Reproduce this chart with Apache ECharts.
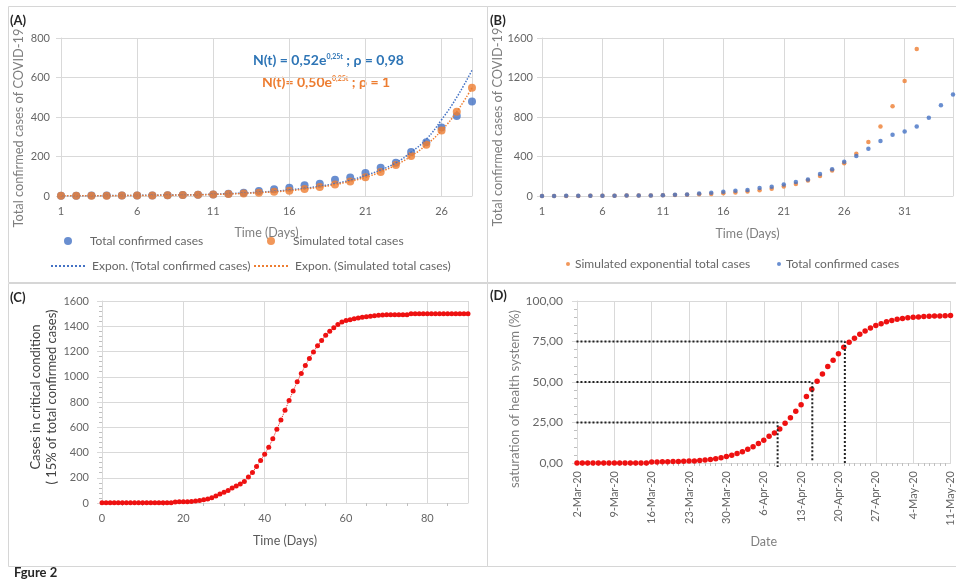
<!DOCTYPE html>
<html>
<head>
<meta charset="utf-8">
<title>Figure 2</title>
<script src="https://cdn.jsdelivr.net/npm/echarts@6/dist/echarts.min.js"></script>
<style>
  html, body { margin: 0; padding: 0; background: #fff; }
  #chart { width: 956px; height: 581px; }
</style>
</head>
<body>
<div id="chart"></div>
<script>
// (A)/(B) total confirmed cases, day 1..35
const confirmedCases = [1, 1, 2, 2, 2, 2, 3, 4, 5, 6, 8, 12, 16, 25, 34, 42, 54, 62, 82, 94, 117, 143, 168, 223, 272, 347, 405, 478, 557, 621, 654, 705, 792, 919, 1027]
// simulated exponential cases, day 1..32
const simulatedCases = [1, 1, 1, 1, 2, 2, 3, 4, 5, 6, 8, 10, 13, 17, 21, 27, 35, 45, 58, 74, 95, 122, 157, 202, 259, 332, 427, 548, 705, 909, 1165, 1488]
// exponential trend lines drawn in (A), day 1..28
const trendConfirmed = [1, 1, 1, 2, 2, 3, 4, 5, 6, 7, 9, 12, 15, 19, 24, 31, 39, 50, 63, 80, 104, 132, 168, 222, 288, 386, 500, 637]
const trendSimulated = [1, 1, 1, 1, 2, 2, 3, 4, 5, 6, 8, 10, 13, 17, 21, 27, 35, 45, 58, 74, 95, 122, 157, 202, 259, 332, 427, 548]
const daysA = 28

// (C) cases in critical condition, day 0..90
const criticalCases = [
  1, 1, 1, 1, 1, 1, 1, 1, 1, 1,
  1, 1, 1, 1, 1, 1, 1, 1, 8, 9,
  10, 10, 12, 15, 20, 25, 32, 42, 55, 72,
  85, 100, 118, 135, 150, 170, 205, 242, 289, 337,
  387, 442, 508, 584, 658, 734, 811, 887, 960, 1026,
  1089, 1145, 1197, 1245, 1287, 1329, 1361, 1389, 1413, 1434,
  1445, 1452, 1460, 1466, 1471, 1476, 1480, 1484, 1487, 1490,
  1491, 1491, 1491, 1491, 1491, 1491, 1500, 1500, 1500, 1500,
  1500, 1500, 1500, 1500, 1500, 1500, 1500, 1500, 1500, 1500,
  1500
]

// (D) saturation of health system (%), daily from 2-Mar-20 to 11-May-20
const saturation = [
  0, 0, 0, 0, 0, 0, 0, 0, 0, 0,
  0, 0, 0, 0, 0.6, 0.6, 0.7, 0.8, 0.9, 1.0,
  1.1, 1.2, 1.3, 1.5, 1.8, 2.2, 2.7, 3.3, 4.0, 4.8,
  5.8, 7.0, 8.5, 10.0, 12.0, 14.0, 16.5, 18.5, 21.0, 24.5,
  28.0, 32.0, 36.0, 41.0, 45.5, 50.5, 55.0, 59.5, 63.5, 67.5,
  71.5, 74.5, 77.0, 79.5, 81.5, 83.3, 84.8, 86.0, 87.2, 88.0,
  88.7, 89.2, 89.6, 89.9, 90.2, 90.4, 90.6, 90.7, 90.8, 90.9,
  91.0
]
const dateLabels = ['2-Mar-20', '9-Mar-20', '16-Mar-20', '23-Mar-20', '30-Mar-20', '6-Apr-20', '13-Apr-20', '20-Apr-20', '27-Apr-20', '4-May-20', '11-May-20']
// dotted guide lines in (D): level (%), day index where it drops, where the drop ends
const refLevel = [25, 50, 75]
const refDay = [37.6, 44.1, 50.2]
const refFoot = [-2.5, 1, 0]
const refStart = -3.1

const FONT = 'Lato'
const GRID = '#d9d9d9'
const LABEL = '#666'
const BLUE = '#4472c4'
const ORANGE = '#ed7d31'
const RED = '#ee1111'

const byDay = (arr, first) => arr.map((v, i) => [i + first, v])

function refLine(k) {
  return [[refStart, refLevel[k]], [refDay[k], refLevel[k]], [refDay[k], refFoot[k]]]
}

function labelStyle(extra) {
  return Object.assign({ color: LABEL, fontFamily: FONT, fontSize: 11 }, extra)
}

// rotated y-axis titles, placed by hand like the original figure
function yTitle(text, x, y, size, color) {
  return {
    type: 'text', x: x, y: y, rotation: Math.PI / 2, silent: true,
    style: { text: text, fontFamily: FONT, fontSize: size, fill: color, align: 'center', verticalAlign: 'middle', lineHeight: 16 }
  }
}

const nameStyle = { color: '#7f7f7f', fontFamily: FONT, fontSize: 12.5 }

const chart = echarts.init(document.getElementById('chart'))

const option = {
  backgroundColor: '#fff',
  animation: false,
  textStyle: { fontFamily: FONT },
  grid: [
    { left: 61, right: 484, top: 38, bottom: 385 }, // A
    { left: 542, right: 2, top: 38, bottom: 385 }, // B
    { left: 102, right: 488, top: 301, bottom: 78 }, // C
    { left: 577, right: 4, top: 301, bottom: 118 } // D
  ],
  xAxis: [
    {
      gridIndex: 0, type: 'value', min: 1, max: daysA, interval: 5,
      axisLine: { lineStyle: { color: GRID } },
      axisTick: { show: false },
      splitLine: { lineStyle: { color: GRID } },
      axisLabel: labelStyle({ margin: 10, formatter: v => ((v - 1) % 5 === 0 ? v : '') }),
      name: 'Time (Days)', nameLocation: 'middle', nameGap: 30, nameTextStyle: nameStyle
    },
    {
      gridIndex: 1, type: 'value', min: 1, max: 35, interval: 5,
      axisLine: { lineStyle: { color: GRID } },
      axisTick: { show: false },
      splitLine: { lineStyle: { color: GRID } },
      axisLabel: labelStyle({ margin: 10, formatter: v => ((v - 1) % 5 === 0 ? v : '') }),
      name: 'Time (Days)', nameLocation: 'middle', nameGap: 31, nameTextStyle: nameStyle
    },
    {
      gridIndex: 2, type: 'value', min: 0, max: 90, interval: 20,
      axisLine: { lineStyle: { color: GRID } },
      axisTick: { show: false },
      minorTick: { show: true, splitNumber: 4, length: 3, lineStyle: { color: '#bfbfbf' } },
      splitLine: { lineStyle: { color: GRID } },
      axisLabel: labelStyle({ margin: 10, formatter: v => (v % 20 === 0 ? v : '') }),
      name: 'Time (Days)', nameLocation: 'middle', nameGap: 31,
      nameTextStyle: Object.assign({}, nameStyle, { color: '#595959' })
    },
    {
      gridIndex: 3, type: 'value', min: 0, max: 70, interval: 7,
      axisLine: { lineStyle: { color: GRID } },
      axisTick: { show: false },
      minorTick: { show: true, splitNumber: 7, length: 3, lineStyle: { color: '#bfbfbf' } },
      splitLine: { lineStyle: { color: GRID } },
      axisLabel: labelStyle({ margin: 8, rotate: 90, formatter: v => dateLabels[v / 7] || '' }),
      name: 'Date', nameLocation: 'middle', nameGap: 72, nameTextStyle: nameStyle
    }
  ],
  yAxis: [
    {
      gridIndex: 0, type: 'value', min: 0, max: 800, interval: 200,
      axisLine: { show: true, lineStyle: { color: GRID } },
      splitLine: { lineStyle: { color: GRID } },
      axisLabel: labelStyle({ margin: 11 })
    },
    {
      gridIndex: 1, type: 'value', min: 0, max: 1600, interval: 400,
      axisLine: { show: true, lineStyle: { color: GRID } },
      splitLine: { lineStyle: { color: GRID } },
      axisLabel: labelStyle({ margin: 9, formatter: v => String(v) })
    },
    {
      gridIndex: 2, type: 'value', min: 0, max: 1600, interval: 200,
      axisLine: { show: true, lineStyle: { color: GRID } },
      minorTick: { show: true, splitNumber: 5, length: 3, lineStyle: { color: '#bfbfbf' } },
      splitLine: { lineStyle: { color: GRID } },
      axisLabel: labelStyle({ margin: 13, formatter: v => String(v) })
    },
    {
      gridIndex: 3, type: 'value', min: 0, max: 100, interval: 25,
      axisLine: { show: true, lineStyle: { color: GRID } },
      minorTick: { show: true, splitNumber: 5, length: 3, lineStyle: { color: '#bfbfbf' } },
      splitLine: { lineStyle: { color: GRID } },
      axisLabel: labelStyle({ margin: 14, fontSize: 12, formatter: v => v.toFixed(2).replace('.', ',') })
    }
  ],
  legend: [
    { data: ['Total confirmed cases'], left: 64, top: 235, padding: 0, itemWidth: 34, itemHeight: 8, textStyle: labelStyle({ fontSize: 12 }) },
    { data: ['Simulated total cases'], left: 267, top: 235, padding: 0, itemWidth: 34, itemHeight: 8, textStyle: labelStyle({ fontSize: 12 }) },
    { data: ['Expon. (Total confirmed cases)'], left: 50, top: 260, padding: 0, itemWidth: 36, itemHeight: 8, itemStyle: { opacity: 0 }, textStyle: labelStyle({ fontSize: 12 }) },
    { data: ['Expon. (Simulated total cases)'], left: 253, top: 260, padding: 0, itemWidth: 36, itemHeight: 8, itemStyle: { opacity: 0 }, textStyle: labelStyle({ fontSize: 12 }) },
    { data: ['Simulated exponential total cases'], left: 566, top: 258, padding: 0, itemWidth: 4, itemHeight: 4, textStyle: labelStyle({ fontSize: 12 }) },
    { data: ['Total confirmed cases '], left: 777, top: 258, padding: 0, itemWidth: 4, itemHeight: 4, textStyle: labelStyle({ fontSize: 12 }) }
  ],
  series: [
    // (A)
    {
      name: 'Total confirmed cases', type: 'scatter', xAxisIndex: 0, yAxisIndex: 0,
      symbolSize: 8, itemStyle: { color: BLUE },
      data: byDay(confirmedCases.slice(0, daysA), 1)
    },
    {
      name: 'Simulated total cases', type: 'scatter', xAxisIndex: 0, yAxisIndex: 0,
      symbolSize: 8, itemStyle: { color: ORANGE },
      data: byDay(simulatedCases.slice(0, daysA), 1)
    },
    {
      name: 'Expon. (Total confirmed cases)', type: 'line', xAxisIndex: 0, yAxisIndex: 0,
      symbol: 'none', smooth: true, z: 3,
      itemStyle: { color: BLUE },
      lineStyle: { color: BLUE, width: 1.5, type: 'dotted' },
      data: byDay(trendConfirmed, 1)
    },
    {
      name: 'Expon. (Simulated total cases)', type: 'line', xAxisIndex: 0, yAxisIndex: 0,
      symbol: 'none', smooth: true, z: 3,
      itemStyle: { color: ORANGE },
      lineStyle: { color: ORANGE, width: 1.5, type: 'dotted' },
      data: byDay(trendSimulated, 1)
    },
    // (B)
    {
      name: 'Simulated exponential total cases', type: 'scatter', xAxisIndex: 1, yAxisIndex: 1,
      symbolSize: 4.5, itemStyle: { color: ORANGE },
      data: byDay(simulatedCases, 1)
    },
    {
      name: 'Total confirmed cases ', type: 'scatter', xAxisIndex: 1, yAxisIndex: 1,
      symbolSize: 4.5, itemStyle: { color: BLUE },
      data: byDay(confirmedCases, 1)
    },
    // (C)
    {
      type: 'line', xAxisIndex: 2, yAxisIndex: 2,
      symbol: 'circle', symbolSize: 5, showAllSymbol: true,
      itemStyle: { color: RED }, lineStyle: { color: RED, width: 1, type: 'dotted' },
      data: byDay(criticalCases, 0)
    },
    // (D)
    {
      type: 'line', xAxisIndex: 3, yAxisIndex: 3,
      symbol: 'circle', symbolSize: 5.5, showAllSymbol: true,
      itemStyle: { color: RED }, lineStyle: { width: 0 },
      data: byDay(saturation, 0)
    }
  ].concat(refLevel.map((_, k) => ({
    type: 'line', xAxisIndex: 3, yAxisIndex: 3, clip: false, silent: true,
    symbol: 'none', z: 4,
    lineStyle: { color: '#222', width: 2, type: 'dotted' },
    data: refLine(k)
  }))),
  graphic: [
    // panel frames
    { type: 'rect', silent: true, z: -10, shape: { x: 8.5, y: 6.5, width: 479, height: 276 }, style: { fill: 'none', stroke: '#d6d6d6', lineWidth: 1 } },
    { type: 'rect', silent: true, z: -10, shape: { x: 487.5, y: 6.5, width: 480, height: 276 }, style: { fill: 'none', stroke: '#d6d6d6', lineWidth: 1 } },
    { type: 'rect', silent: true, z: -10, shape: { x: 8.5, y: 283.5, width: 479, height: 283 }, style: { fill: 'none', stroke: '#d6d6d6', lineWidth: 1 } },
    { type: 'rect', silent: true, z: -10, shape: { x: 487.5, y: 283.5, width: 480, height: 283 }, style: { fill: 'none', stroke: '#d6d6d6', lineWidth: 1 } },
    // panel letters
    { type: 'text', left: 10, top: 14, style: { text: '(A)', fontFamily: FONT, fontSize: 13, fontWeight: 'bold', fill: '#262626' } },
    { type: 'text', left: 490, top: 14, style: { text: '(B)', fontFamily: FONT, fontSize: 13, fontWeight: 'bold', fill: '#262626' } },
    { type: 'text', left: 10, top: 291, style: { text: '(C)', fontFamily: FONT, fontSize: 13, fontWeight: 'bold', fill: '#262626' } },
    { type: 'text', left: 490, top: 289, style: { text: '(D)', fontFamily: FONT, fontSize: 13, fontWeight: 'bold', fill: '#262626' } },
    { type: 'text', left: 14, top: 566, style: { text: 'Fgure 2', fontFamily: FONT, fontSize: 13, fontWeight: 'bold', fill: '#262626' } },
    // y-axis titles
    yTitle('Total confirmed cases of COVID-19', 19, 128, 12.8, '#7f7f7f'),
    yTitle('Total confirmed cases of COVID-19', 498, 127, 12.8, '#7f7f7f'),
    yTitle('Cases in critical condition\n( 15% of total confirmed cases)', 44, 397, 13, '#404040'),
    yTitle('saturation of health system (%)', 515, 399, 13.2, '#7f7f7f'),
    // fitted equations in (A)
    {
      type: 'text', left: 253, top: 53,
      style: {
        text: '{b|N(t) = 0,52e}{s|0,25t}{b| ; ρ = 0,98}',
        rich: {
          b: { fontFamily: FONT, fontSize: 14, fontWeight: 'bold', fill: '#2e75b6', color: '#2e75b6' },
          s: { fontFamily: FONT, fontSize: 7, fontWeight: 'bold', fill: '#2e75b6', color: '#2e75b6', verticalAlign: 'top' }
        }
      }
    },
    {
      type: 'text', left: 262, top: 75,
      style: {
        text: '{b|N(t)= 0,50e}{s|0,25t}{b| ; ρ = 1}',
        rich: {
          b: { fontFamily: FONT, fontSize: 14, fontWeight: 'bold', fill: ORANGE, color: ORANGE },
          s: { fontFamily: FONT, fontSize: 7, fontWeight: 'bold', fill: ORANGE, color: ORANGE, verticalAlign: 'top' }
        }
      }
    }
  ]
}

chart.setOption(option)
</script>
</body>
</html>
